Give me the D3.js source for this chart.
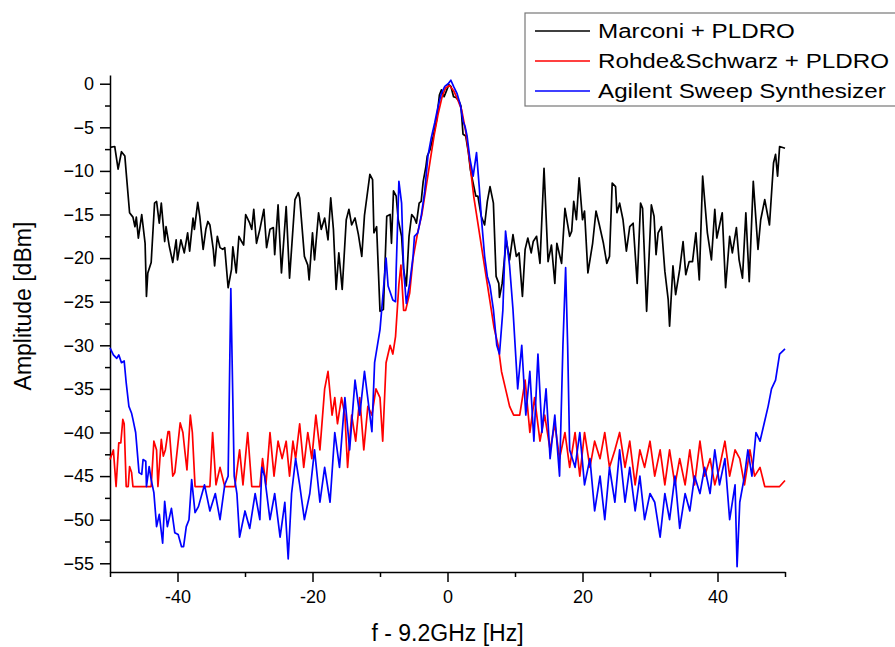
<!DOCTYPE html>
<html>
<head>
<meta charset="utf-8">
<script src="https://cdn.jsdelivr.net/npm/d3@7"></script>
<style>
  body { margin: 0; background: #fff; }
  svg { font-family: "Liberation Sans", Arial, sans-serif; }
</style>
</head>
<body>
<div id="chart"></div>
<script>
// spectrum around 9.2 GHz, three sources
const seriesNames = ['Marconi + PLDRO', 'Rohde&Schwarz + PLDRO', 'Agilent Sweep Synthesizer'];
const seriesColors = ['#000000', '#ff0000', '#0000ff'];
const xTicks = [-40, -20, 0, 20, 40];
const yTicks = [-55, -50, -45, -40, -35, -30, -25, -20, -15, -10, -5, 0];

// [f - 9.2GHz (Hz), amplitude (dBm)]
const marconi = [
  [-50.0,-7.3],[-49.3,-7.2],[-48.8,-9.8],[-48.3,-7.8],[-47.8,-8.3],[-47.6,-10.2],[-47.1,-14.8],[-46.6,-15.3],
  [-46.3,-16.4],[-46.1,-15.3],[-45.8,-17.7],[-45.3,-15.0],[-44.8,-18.3],[-44.6,-24.4],[-44.4,-21.7],[-43.9,-20.5],
  [-43.4,-13.7],[-43.1,-13.5],[-42.7,-16.0],[-42.4,-13.7],[-41.9,-18.1],[-41.7,-16.4],[-41.2,-18.7],[-40.7,-20.5],
  [-40.2,-17.9],[-40.0,-20.2],[-39.5,-17.9],[-39.0,-19.4],[-38.5,-17.1],[-38.2,-19.2],[-37.7,-15.4],[-37.5,-16.7],
  [-37.0,-13.6],[-36.7,-15.2],[-36.4,-17.5],[-36.2,-19.0],[-35.8,-16.7],[-35.5,-15.8],[-35.2,-16.2],[-34.7,-19.0],
  [-34.5,-20.9],[-34.1,-17.5],[-33.7,-18.8],[-33.3,-19.0],[-33.0,-18.8],[-32.5,-23.4],[-32.0,-21.3],[-31.8,-18.7],
  [-31.3,-21.7],[-30.9,-17.5],[-30.5,-18.1],[-30.2,-18.5],[-29.9,-15.0],[-29.3,-16.0],[-29.0,-16.7],[-28.7,-14.4],
  [-28.3,-18.3],[-27.8,-16.7],[-27.2,-14.4],[-26.8,-18.8],[-26.3,-16.7],[-25.8,-16.5],[-25.6,-19.6],[-25.1,-13.9],
  [-24.6,-21.7],[-23.9,-14.1],[-23.4,-22.3],[-22.6,-13.3],[-22.1,-12.5],[-21.9,-13.1],[-21.2,-19.8],[-20.7,-20.8],
  [-20.5,-22.5],[-20.0,-17.1],[-19.7,-20.2],[-19.1,-14.8],[-18.7,-16.7],[-18.2,-15.4],[-17.7,-17.9],[-17.3,-13.1],
  [-16.9,-16.7],[-16.5,-23.6],[-16.1,-19.4],[-15.6,-23.6],[-15.0,-15.6],[-14.6,-14.4],[-14.2,-16.2],[-13.7,-15.4],
  [-13.2,-17.3],[-12.7,-19.8],[-12.3,-15.1],[-11.5,-10.4],[-11.1,-11.0],[-10.9,-17.1],[-10.5,-16.4],[-10.0,-26.1],
  [-9.5,-25.9],[-9.0,-15.2],[-8.5,-15.0],[-8.3,-18.3],[-8.0,-12.3],[-7.6,-12.9],[-7.3,-15.6],[-6.8,-17.5],
  [-6.5,-21.3],[-6.1,-23.2],[-5.7,-17.5],[-5.3,-15.0],[-4.9,-15.4],[-4.6,-16.0],[-4.2,-13.7],[-3.9,-13.5],
  [-3.6,-11.2],[-3.2,-9.5],[-3.0,-8.3],[-2.6,-7.6],[-2.1,-6.0],[-1.6,-4.1],[-1.2,-1.3],[-0.9,-0.7],
  [-0.5,-1.5],[-0.1,-0.7],[0.2,-0.1],[0.5,-0.3],[0.9,-1.5],[1.3,-1.6],[1.7,-2.0],[2.0,-2.6],
  [2.3,-5.8],[2.7,-6.0],[3.1,-7.9],[3.4,-9.9],[3.8,-11.4],[4.2,-12.9],[4.5,-12.9],[5.0,-15.2],
  [5.5,-16.2],[5.9,-13.5],[6.3,-11.8],[6.8,-13.7],[7.2,-22.1],[7.6,-22.9],[7.7,-24.5],[8.1,-22.9],
  [8.7,-17.9],[9.2,-20.2],[9.7,-17.3],[10.2,-19.8],[10.6,-19.4],[11.1,-24.4],[11.5,-19.0],[11.9,-17.7],
  [12.4,-19.4],[12.7,-18.1],[13.2,-17.5],[13.7,-20.6],[14.3,-9.7],[14.9,-20.4],[15.4,-18.5],[15.9,-22.9],
  [16.2,-18.3],[16.9,-20.6],[17.4,-14.3],[18.1,-17.5],[18.4,-16.9],[18.7,-13.5],[19.1,-15.6],[19.5,-10.8],
  [20.0,-15.6],[20.3,-14.6],[20.8,-21.7],[21.5,-18.3],[22.0,-14.6],[22.5,-16.2],[23.1,-18.3],[23.6,-20.6],
  [24.0,-19.8],[24.4,-11.4],[24.9,-11.8],[25.1,-14.8],[25.5,-13.7],[26.0,-15.6],[26.5,-19.2],[27.0,-16.4],
  [27.5,-16.0],[28.1,-22.9],[28.6,-13.7],[28.9,-14.3],[29.5,-26.1],[30.2,-13.9],[30.6,-15.2],[30.9,-19.6],
  [31.2,-17.1],[31.7,-16.4],[32.2,-21.5],[32.7,-24.8],[32.9,-27.8],[33.4,-20.9],[33.8,-24.2],[34.4,-21.3],
  [34.9,-18.1],[35.3,-21.9],[35.8,-20.4],[36.3,-20.4],[36.8,-17.1],[37.3,-22.5],[37.8,-10.6],[38.5,-17.1],
  [39.1,-20.2],[39.6,-14.4],[39.9,-17.7],[40.7,-14.8],[41.2,-23.4],[41.8,-17.5],[42.2,-19.4],[42.8,-16.5],
  [43.2,-20.2],[43.7,-22.3],[44.2,-14.8],[44.7,-22.7],[45.3,-11.2],[46.0,-19.0],[46.4,-15.6],[47.0,-13.3],
  [47.7,-16.2],[48.3,-9.1],[48.6,-8.1],[48.9,-10.6],[49.2,-7.2],[50.0,-7.4]
];

const rohde = [
  [-50.0,-43.1],[-49.5,-42.0],[-49.1,-46.2],[-48.7,-41.2],[-48.4,-41.2],[-48.1,-38.5],[-47.9,-39.0],[-47.6,-46.2],
  [-47.3,-46.2],[-47.1,-43.9],[-46.8,-44.6],[-46.6,-46.2],[-43.9,-46.2],[-43.5,-41.0],[-43.1,-42.0],[-42.9,-46.2],
  [-42.4,-40.8],[-42.1,-42.7],[-41.8,-42.0],[-41.4,-39.9],[-41.2,-39.9],[-40.7,-45.0],[-40.4,-44.6],[-39.6,-38.9],
  [-39.2,-40.0],[-38.9,-42.2],[-38.6,-44.3],[-38.1,-38.0],[-37.8,-40.0],[-37.4,-46.2],[-36.7,-46.2],[-35.2,-46.2],
  [-34.8,-40.0],[-34.3,-46.0],[-33.7,-44.0],[-33.0,-46.2],[-31.5,-46.2],[-30.8,-42.0],[-30.3,-46.0],[-29.6,-40.0],
  [-29.0,-46.2],[-27.8,-46.2],[-27.4,-43.0],[-26.9,-46.0],[-26.3,-40.0],[-25.7,-45.0],[-25.1,-41.0],[-24.5,-43.0],
  [-23.9,-41.0],[-23.4,-45.0],[-22.9,-41.0],[-22.5,-43.0],[-21.9,-39.0],[-21.3,-44.0],[-20.7,-40.0],[-20.1,-43.0],
  [-19.5,-38.0],[-18.9,-42.0],[-18.2,-35.0],[-17.7,-33.0],[-17.1,-38.0],[-16.7,-36.0],[-16.3,-39.0],[-15.7,-36.0],
  [-15.2,-38.0],[-14.8,-44.0],[-14.2,-38.0],[-13.6,-41.0],[-13.0,-36.0],[-12.4,-42.0],[-11.8,-37.0],[-11.2,-38.0],
  [-10.6,-35.0],[-10.0,-36.0],[-9.6,-41.0],[-9.1,-32.0],[-8.5,-30.0],[-8.1,-31.0],[-7.7,-29.0],[-7.2,-23.0],
  [-6.9,-20.8],[-6.5,-26.0],[-6.2,-26.0],[-5.6,-24.0],[-5.1,-20.0],[-4.4,-17.0],[-3.8,-15.0],[-3.2,-12.0],
  [-2.6,-9.0],[-2.0,-6.0],[-1.4,-3.5],[-0.8,-1.5],[-0.3,-0.5],[0.3,-0.2],[0.9,-0.8],[1.5,-1.8],
  [2.1,-3.0],[2.7,-5.5],[3.3,-9.0],[3.9,-13.0],[4.5,-16.0],[5.1,-19.0],[5.7,-22.0],[6.3,-25.0],
  [6.9,-28.0],[7.5,-30.0],[8.0,-33.0],[8.6,-35.0],[9.2,-37.0],[9.8,-38.0],[10.7,-38.0],[11.5,-34.0],
  [12.2,-40.0],[12.9,-36.0],[13.7,-41.0],[14.4,-38.0],[15.2,-42.0],[15.9,-39.0],[16.6,-43.0],[17.4,-40.0],
  [18.1,-44.0],[18.9,-40.0],[19.6,-45.0],[20.3,-40.0],[21.1,-44.0],[21.8,-41.0],[22.6,-43.0],[23.3,-40.0],
  [24.0,-44.0],[24.8,-42.0],[25.5,-40.0],[26.3,-44.0],[27.0,-41.0],[27.8,-46.0],[28.5,-42.0],[29.2,-44.0],
  [30.0,-41.0],[30.7,-45.0],[31.5,-42.0],[32.2,-46.0],[32.9,-42.0],[33.7,-46.0],[34.4,-43.0],[35.2,-46.0],
  [35.9,-42.0],[36.6,-46.0],[37.4,-41.0],[38.1,-45.0],[38.9,-43.0],[39.6,-46.0],[40.3,-44.0],[41.1,-41.0],
  [41.8,-45.0],[42.6,-42.0],[43.3,-43.0],[44.0,-46.0],[44.8,-42.0],[45.5,-45.0],[46.3,-44.0],[47.0,-46.2],
  [49.2,-46.2],[50.0,-45.5]
];

const agilent = [
  [-50.0,-30.3],[-49.5,-31.1],[-49.0,-31.5],[-48.7,-31.1],[-48.3,-32.0],[-47.9,-31.8],[-47.6,-34.3],[-47.2,-37.0],
  [-46.8,-37.8],[-46.6,-38.5],[-46.2,-40.0],[-45.7,-44.6],[-45.3,-44.8],[-45.1,-43.1],[-44.7,-43.3],[-44.6,-46.2],
  [-44.2,-43.9],[-43.9,-45.4],[-43.5,-46.9],[-43.1,-50.8],[-42.7,-49.4],[-42.2,-52.7],[-41.9,-47.9],[-41.5,-50.8],
  [-40.9,-48.7],[-40.4,-51.5],[-39.9,-51.7],[-39.4,-53.1],[-39.1,-53.1],[-38.7,-50.8],[-38.3,-50.0],[-37.9,-45.4],
  [-37.4,-49.2],[-36.9,-48.5],[-36.0,-46.0],[-35.2,-49.0],[-34.4,-47.0],[-33.7,-50.0],[-33.0,-46.0],[-32.5,-45.0],
  [-32.1,-23.5],[-31.6,-45.0],[-31.2,-47.0],[-30.8,-52.0],[-30.0,-49.0],[-29.3,-51.0],[-28.5,-47.0],[-27.8,-50.0],
  [-27.5,-44.0],[-27.1,-45.0],[-26.3,-50.0],[-25.6,-47.0],[-24.8,-52.0],[-24.1,-48.0],[-23.6,-54.5],[-23.1,-47.0],
  [-22.5,-43.0],[-21.9,-46.0],[-21.2,-50.0],[-20.4,-47.0],[-19.7,-42.0],[-18.9,-48.0],[-18.2,-44.0],[-17.4,-48.0],
  [-16.7,-40.0],[-16.0,-44.0],[-15.2,-36.0],[-14.5,-42.0],[-13.7,-34.0],[-13.0,-38.0],[-12.3,-33.0],[-11.2,-39.9],
  [-10.8,-32.0],[-10.0,-28.2],[-9.1,-20.0],[-8.8,-23.2],[-8.1,-24.8],[-7.7,-25.0],[-7.6,-21.3],[-7.2,-11.2],
  [-6.8,-13.7],[-6.5,-21.3],[-6.1,-25.2],[-5.6,-22.9],[-5.1,-19.8],[-4.9,-17.5],[-4.4,-17.1],[-3.9,-15.2],
  [-3.4,-12.5],[-2.9,-8.3],[-2.4,-6.2],[-1.9,-4.5],[-1.4,-2.6],[-0.9,-1.1],[-0.4,-0.3],[0.1,0.0],
  [0.5,0.4],[0.9,-0.3],[1.4,-1.1],[1.9,-2.4],[2.3,-4.3],[2.6,-4.9],[2.9,-6.0],[3.3,-8.5],
  [3.8,-10.6],[4.3,-7.9],[4.7,-11.8],[5.0,-15.2],[5.5,-19.8],[5.9,-22.1],[6.3,-23.2],[6.8,-25.9],
  [7.3,-30.0],[7.7,-31.0],[8.2,-26.0],[8.6,-16.9],[9.2,-20.9],[9.7,-25.9],[10.4,-35.0],[11.0,-30.0],
  [11.6,-38.0],[12.2,-33.0],[12.8,-41.0],[13.4,-31.0],[14.0,-40.0],[14.6,-35.0],[15.2,-43.0],[15.9,-38.0],
  [16.6,-45.0],[17.1,-30.0],[17.5,-21.1],[17.8,-30.0],[18.1,-42.0],[18.9,-44.0],[19.6,-40.0],[20.3,-46.0],
  [21.1,-43.0],[21.8,-49.0],[22.6,-45.0],[23.3,-50.0],[24.0,-44.0],[24.8,-48.0],[25.5,-42.0],[26.3,-48.0],
  [27.0,-44.0],[27.8,-49.0],[28.5,-45.0],[29.2,-50.0],[30.0,-47.0],[30.7,-48.0],[31.5,-52.0],[32.2,-47.0],
  [32.9,-50.0],[33.7,-45.0],[34.4,-51.0],[35.2,-47.0],[35.9,-49.0],[36.6,-45.0],[37.4,-47.0],[38.1,-44.0],
  [38.9,-47.0],[39.6,-42.0],[40.3,-46.0],[41.1,-43.0],[41.8,-50.0],[42.6,-46.0],[42.9,-55.4],[43.3,-48.0],
  [44.0,-45.0],[44.5,-42.0],[45.1,-45.0],[45.7,-40.0],[46.3,-41.0],[46.9,-39.0],[47.5,-37.0],[48.0,-35.0],
  [48.6,-34.0],[49.2,-31.0],[50.0,-30.4]
];

const W = 895, H = 647;
const svg = d3.select('#chart').append('svg')
  .attr('width', W).attr('height', H);

const x = d3.scaleLinear().domain([-50, 50]).range([110, 785]);
const y = d3.scaleLinear().domain([-56, 1]).range([572, 75]);

// minor ticks first, major axis on top
const xMinor = d3.range(-50, 51, 10).filter(v => !xTicks.includes(v));
const yMinor = d3.range(-52.5, 0, 5);

svg.append('g')
  .attr('transform', `translate(0,${y(-56)})`)
  .call(d3.axisBottom(x).tickValues(xMinor).tickSize(5).tickFormat(''))
  .call(g => g.select('.domain').remove());
svg.append('g')
  .attr('transform', `translate(${x(-50)},0)`)
  .call(d3.axisLeft(y).tickValues(yMinor).tickSize(5).tickFormat(''))
  .call(g => g.select('.domain').remove());

const xAxis = svg.append('g')
  .attr('transform', `translate(0,${y(-56)})`)
  .call(d3.axisBottom(x).tickValues(xTicks).tickSize(10).tickSizeOuter(0).tickPadding(8));
const yAxis = svg.append('g')
  .attr('transform', `translate(${x(-50)},0)`)
  .call(d3.axisLeft(y).tickValues(yTicks).tickSize(10).tickSizeOuter(0).tickPadding(6));

svg.selectAll('.tick line').attr('stroke', '#000').attr('stroke-width', 1.5);
[xAxis, yAxis].forEach(a => {
  a.select('.domain').attr('stroke', '#000').attr('stroke-width', 1.5);
  a.selectAll('text').attr('font-size', 18).attr('fill', '#000')
    .attr('font-family', '"Liberation Sans", Arial, sans-serif');
});
xAxis.selectAll('text').text(d => d);

// data lines
const line = d3.line().x(d => x(d[0])).y(d => y(d[1]));
const allSeries = [marconi, rohde, agilent];
allSeries.forEach((s, i) => {
  svg.append('path')
    .datum(s)
    .attr('fill', 'none')
    .attr('stroke', seriesColors[i])
    .attr('stroke-width', 1.7)
    .attr('stroke-linejoin', 'round')
    .attr('d', line);
});

// axis titles
svg.append('text')
  .attr('x', x(0)).attr('y', 641)
  .attr('text-anchor', 'middle')
  .attr('font-size', 23)
  .text('f - 9.2GHz [Hz]');
svg.append('text')
  .attr('transform', `translate(31,${y(-25.5)}) rotate(-90)`)
  .attr('text-anchor', 'middle')
  .attr('font-size', 23)
  .text('Amplitude [dBm]');

// legend
const lg = svg.append('g').attr('transform', 'translate(525,13)');
lg.append('rect')
  .attr('width', 372).attr('height', 93)
  .attr('fill', '#fff').attr('stroke', '#777').attr('stroke-width', 1.2);
seriesNames.forEach((name, i) => {
  const row = lg.append('g').attr('transform', `translate(0,${18 + i * 30})`);
  row.append('line')
    .attr('x1', 10).attr('x2', 65)
    .attr('stroke', seriesColors[i]).attr('stroke-width', 1.7);
  row.append('text')
    .attr('transform', 'translate(73,7) scale(1.21,1)')
    .attr('font-size', 20)
    .text(name);
});
</script>
</body>
</html>
